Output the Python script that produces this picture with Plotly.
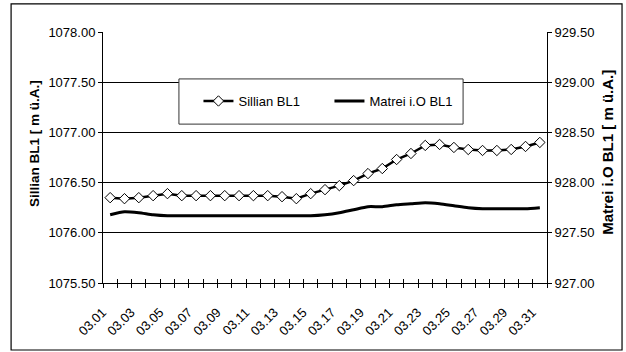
import plotly.graph_objects as go

# Daily readings, March
dates = ["03.01", "03.02", "03.03", "03.04", "03.05", "03.06", "03.07", "03.08",
         "03.09", "03.10", "03.11", "03.12", "03.13", "03.14", "03.15", "03.16",
         "03.17", "03.18", "03.19", "03.20", "03.21", "03.22", "03.23", "03.24",
         "03.25", "03.26", "03.27", "03.28", "03.29", "03.30", "03.31"]

sillian = [1076.35, 1076.34, 1076.35, 1076.37, 1076.39, 1076.37, 1076.37, 1076.37,
           1076.37, 1076.37, 1076.37, 1076.37, 1076.36, 1076.34, 1076.39, 1076.43,
           1076.47, 1076.52, 1076.59, 1076.64, 1076.73, 1076.79, 1076.87, 1076.88,
           1076.85, 1076.83, 1076.82, 1076.82, 1076.83, 1076.86, 1076.90]

matrei = [927.68, 927.71, 927.70, 927.68, 927.67, 927.67, 927.67, 927.67,
          927.67, 927.67, 927.67, 927.67, 927.67, 927.67, 927.67, 927.68,
          927.70, 927.73, 927.76, 927.76, 927.78, 927.79, 927.80, 927.79,
          927.77, 927.75, 927.74, 927.74, 927.74, 927.74, 927.75]

# label every second day, tick every day; trailing no-break spaces pull the
# rotated labels back toward the tick
PAD = "\u00a0" * 3
tick_text = [d + PAD if i % 2 == 0 else "" for i, d in enumerate(dates)]

left_title = "Sillian BL1 [ m ü.A.]"
right_title = "Matrei i.O BL1 [ m ü.A.]"

FONT = "Liberation Sans"
TICK_FONT = dict(family=FONT, size=13, color="black")

fig = go.Figure()

fig.add_trace(go.Scatter(
    x=dates, y=sillian, name="Sillian BL1", mode="lines+markers",
    line=dict(color="black", width=2.5),
    marker=dict(symbol="diamond", size=8, color="white",
                line=dict(color="black", width=1)),
    xaxis="x", yaxis="y",
))

fig.add_trace(go.Scatter(
    x=dates, y=matrei, name="Matrei i.O BL1", mode="lines",
    line=dict(color="black", width=3, shape="spline", smoothing=0.6),
    xaxis="x2", yaxis="y2",
))

common_x = dict(
    type="category", categoryorder="array", categoryarray=dates,
    range=[-0.5, len(dates) - 0.5],
    tickmode="array", tickvals=dates,
    tickson="boundaries", ticklen=4, tickcolor="black", tickwidth=1,
    showgrid=False, zeroline=False, automargin=False,
)

fig.update_layout(
    width=626, height=352,
    margin=dict(l=103, r=79, t=32, b=69, autoexpand=False),
    paper_bgcolor="white", plot_bgcolor="white",
    font=dict(family=FONT, size=13, color="black"),
    showlegend=True,
    xaxis=dict(
        **common_x,
        ticktext=tick_text, ticks="outside", tickangle=-45,
        ticklabelstandoff=8,
        showline=True, linecolor="black", linewidth=1,
        tickfont=TICK_FONT,
    ),
    xaxis2=dict(
        **common_x,
        ticktext=["" for _ in dates], ticks="inside",
        overlaying="x", matches="x", anchor="y2", side="bottom",
        showticklabels=False, showline=False,
    ),
    yaxis=dict(
        range=[1075.5, 1078.0], dtick=0.5, tick0=1075.5, tickformat=".2f",
        ticks="outside", ticklen=4, tickcolor="black",
        showline=True, linecolor="black", linewidth=1,
        showgrid=True, gridcolor="black", gridwidth=1, zeroline=False,
        tickfont=TICK_FONT, automargin=False,
    ),
    yaxis2=dict(
        range=[927.0, 929.5], dtick=0.5, tick0=927.0, tickformat=".2f",
        overlaying="y", side="right", anchor="x2",
        ticks="outside", ticklen=4, tickcolor="black",
        showline=True, linecolor="black", linewidth=1,
        showgrid=False, zeroline=False,
        tickfont=TICK_FONT, automargin=False,
    ),
    legend=dict(
        orientation="h", x=0.215, y=0.725, xanchor="left", yanchor="middle",
        bgcolor="rgba(0,0,0,0)", borderwidth=0,
        entrywidth=86, entrywidthmode="pixels",
        font=dict(family=FONT, size=13, color="black"),
    ),
    annotations=[
        dict(text=f"<b>{left_title}</b>", textangle=-90, showarrow=False,
             xref="paper", yref="paper", x=-0.153, y=0.554,
             xanchor="center", yanchor="middle",
             font=dict(family=FONT, size=13.5, color="black")),
        dict(text=f"<b>{right_title}</b>", textangle=-90, showarrow=False,
             xref="paper", yref="paper", x=1.137, y=0.522,
             xanchor="center", yanchor="middle",
             font=dict(family=FONT, size=15, color="black")),
    ],
    shapes=[
        # legend frame
        dict(type="rect", xref="paper", yref="paper",
             x0=0.171, x1=0.811, y0=0.633, y1=0.813,
             line=dict(color="#333333", width=1), fillcolor="white", layer="above"),
        # chart frame
        dict(type="rect", xref="paper", yref="paper",
             x0=-0.207, x1=1.169, y0=-0.267, y1=1.112,
             line=dict(color="black", width=1.2), fillcolor="rgba(0,0,0,0)",
             layer="above"),
    ],
)

fig.write_html("out.html")
